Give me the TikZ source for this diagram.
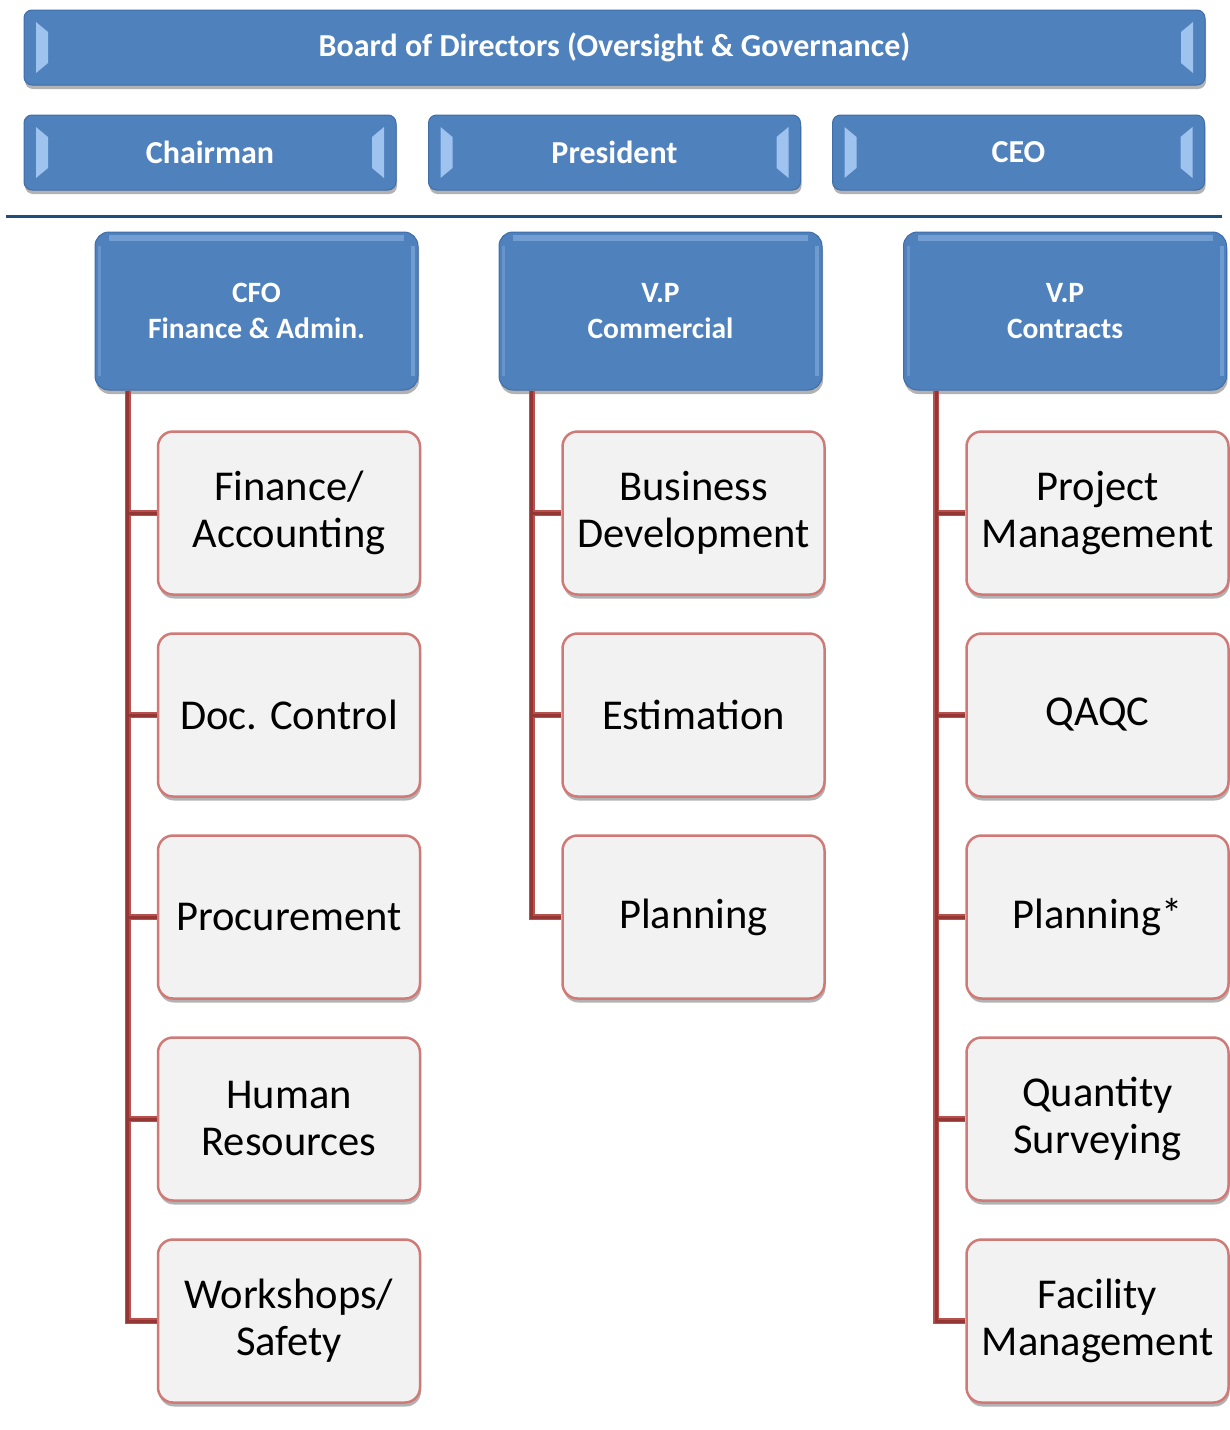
\documentclass[tikz,border=0pt]{standalone}
\usepackage{fontspec}
\setmainfont{Carlito}
\usetikzlibrary{shadows,calc}
\definecolor{bluefill}{HTML}{4F81BD}
\definecolor{blueline}{HTML}{3F6EA8}
\definecolor{bevelc}{HTML}{9DC3EE}
\definecolor{sepc}{HTML}{1F4E79}
\definecolor{childfill}{HTML}{F2F2F2}
\definecolor{childline}{HTML}{D07A77}
\definecolor{conndark}{HTML}{943634}
\definecolor{connlight}{HTML}{B8504D}
\begin{document}
\begin{tikzpicture}[x=1pt,y=-1pt,
  shad/.style={drop shadow={shadow xshift=1pt,shadow yshift=-4pt,fill=black,opacity=0.3}},
  bluebase/.style={draw=blueline,fill=bluefill,line width=1pt,text=white,inner sep=0pt,shad,
    font=\bfseries\fontsize{32}{36}\selectfont,align=center},
  topbox/.style={bluebase,rounded corners=8pt,minimum height=75pt,minimum width=#1,
    path picture={
      \fill[bevelc,sharp corners] ($(path picture bounding box.north west)+(12,12)$) -- ($(path picture bounding box.north west)+(24,22)$)
        -- ($(path picture bounding box.south west)+(24,-22)$) -- ($(path picture bounding box.south west)+(12,-12)$) -- cycle;
      \fill[bevelc,sharp corners] ($(path picture bounding box.north east)+(-12,12)$) -- ($(path picture bounding box.north east)+(-24,22)$)
        -- ($(path picture bounding box.south east)+(-24,-22)$) -- ($(path picture bounding box.south east)+(-12,-12)$) -- cycle;
    }},
  headbox/.style={bluebase,rounded corners=14pt,minimum width=323pt,minimum height=158pt,
    font=\bfseries\fontsize{29.5}{36}\selectfont,
    path picture={
      \fill[bevelc,opacity=0.45,sharp corners] ($(path picture bounding box.north west)+(14,3)$) rectangle ($(path picture bounding box.north east)+(-14,9)$);
      \fill[bevelc,opacity=0.4,sharp corners] ($(path picture bounding box.north east)+(-7,14)$) rectangle ($(path picture bounding box.south east)+(-3,-14)$);
      \fill[bevelc,opacity=0.3,sharp corners] ($(path picture bounding box.north west)+(3,14)$) rectangle ($(path picture bounding box.south west)+(6,-14)$);
    }},
  childbox/.style={draw=childline,fill=childfill,line width=2.5pt,rounded corners=15pt,
    minimum width=262pt,minimum height=163pt,inner sep=0pt,align=center,shad,
    font=\fontsize{42.5}{47}\selectfont},
  connl/.style={draw=connlight,line width=6pt},
  connd/.style={draw=conndark,line width=3pt},
  sep/.style={draw=sepc,line width=3pt}
]
\useasboundingbox (0,0) rectangle (1230,1430);

\node[topbox=1181pt] (board) at (614.5,47.5) {Board of Directors (Oversight \& Governance)};
\node[topbox=372pt] (chair) at (210,152.5) {Chairman};
\node[topbox=372pt] (pres) at (614.5,152.5) {President};
\node[topbox=372pt] (ceo) at (1018.5,152.5) {CEO};

\coordinate (sepL) at (6,216);
\coordinate (sepR) at (1222,216);
\draw[sep] (sepL) -- (sepR);

\node[headbox] (cfo) at (256.5,311) {CFO\\Finance \& Admin.};
\node[headbox] (vpc) at (660.5,311) {V.P\\Commercial};
\node[headbox] (vpk) at (1065,311) {V.P\\Contracts};

\coordinate (rootA) at ($(cfo.south west)+(33,0)$);
\coordinate (rootB) at ($(vpc.south west)+(33,0)$);
\coordinate (rootC) at ($(vpk.south west)+(33,0)$);

\node[childbox] (a1) at (289,513) {Finance/\\Accounting};
\node[childbox] (a2) at (289,715) {Doc. Control};
\node[childbox] (a3) at (289,917) {Procurement};
\node[childbox] (a4) at (289,1119) {Human\\Resources};
\node[childbox] (a5) at (289,1321) {Workshops/\\Safety};

\node[childbox] (b1) at (693.5,513) {Business\\Development};
\node[childbox] (b2) at (693.5,715) {Estimation};
\node[childbox] (b3) at (693.5,917) {Planning};

\node[childbox] (c1) at (1097.5,513) {Project\\Management};
\node[childbox] (c2) at (1097.5,715) {QAQC};
\node[childbox] (c3) at (1097.5,917) {Planning*};
\node[childbox] (c4) at (1097.5,1119) {Quantity\\Surveying};
\node[childbox] (c5) at (1097.5,1321) {Facility\\Management};

\foreach \st in {connl,connd}{
  \foreach \c in {a1,a2,a3,a4,a5}{\draw[\st] (rootA) |- (\c.west);}
  \foreach \c in {b1,b2,b3}{\draw[\st] (rootB) |- (\c.west);}
  \foreach \c in {c1,c2,c3,c4,c5}{\draw[\st] (rootC) |- (\c.west);}
}
\end{tikzpicture}
\end{document}
